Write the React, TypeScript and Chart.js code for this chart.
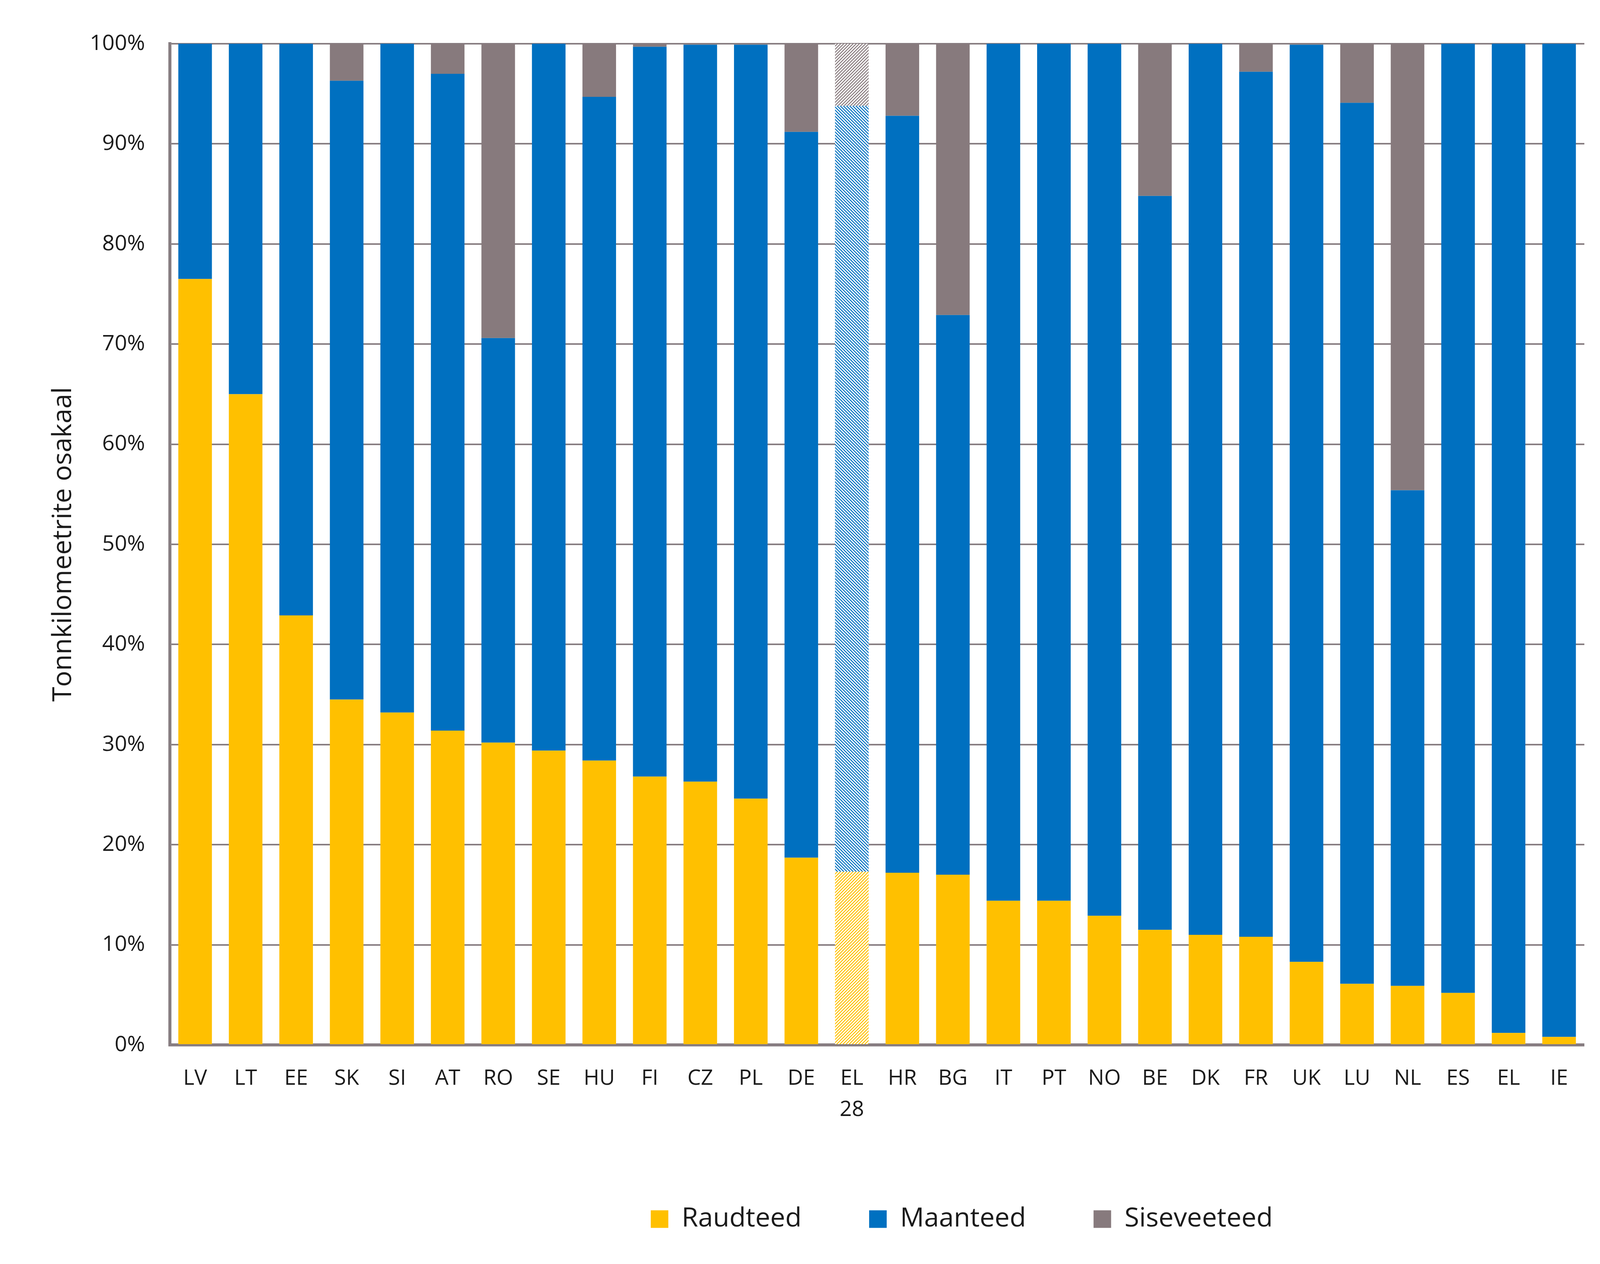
import { useEffect, useRef } from "react";
import { Chart, registerables } from "chart.js";

Chart.register(...registerables);

const categories: (string | string[])[] = [
  "LV", "LT", "EE", "SK", "SI", "AT", "RO", "SE", "HU", "FI", "CZ", "PL", "DE",
  ["EL", "28"], "HR", "BG", "IT", "PT", "NO", "BE", "DK", "FR", "UK", "LU", "NL",
  "ES", "EL", "IE",
];

// shares in % of tonne-kilometres
const raudteed = [
  76.5, 65.0, 42.9, 34.5, 33.2, 31.4, 30.2, 29.4, 28.4, 26.8, 26.3, 24.6, 18.7,
  17.3, 17.2, 17.0, 14.4, 14.4, 12.9, 11.5, 11.0, 10.8, 8.3, 6.1, 5.9, 5.2, 1.2, 0.8,
];
const maanteed = [
  23.5, 35.0, 57.1, 61.8, 66.8, 65.6, 40.4, 70.6, 66.3, 72.9, 73.6, 75.3, 72.5,
  76.5, 75.6, 55.9, 85.6, 85.6, 87.1, 73.3, 89.0, 86.4, 91.6, 88.0, 49.5, 94.8, 98.8, 99.2,
];
const siseveeteed = [
  0, 0, 0, 3.7, 0, 3.0, 29.4, 0, 5.3, 0.3, 0.1, 0.1, 8.8,
  6.2, 7.2, 27.1, 0, 0, 0, 15.2, 0, 2.8, 0.1, 5.9, 44.6, 0, 0, 0,
];

const seriesNames = ["Raudteed", "Maanteed", "Siseveeteed"];
const seriesColors = ["#FFC000", "#0070C0", "#877A7D"];
const yTickLabels = ["0%", "10%", "20%", "30%", "40%", "50%", "60%", "70%", "80%", "90%", "100%"];
const axisTitle = "Tonnkilomeetrite osakaal";

const FONT = "'Open Sans', 'Noto Sans', sans-serif";
const TEXT = "#1b1b1b";
const GRID = "#877d81";

// reference frame the layout was measured in
const REF_W = 4192;
const REF_H = 3237;
const MARGIN = 8;

function makeHatch(color: string, rising: boolean) {
  const size = 8;
  const c = document.createElement("canvas");
  c.width = size;
  c.height = size;
  const g = c.getContext("2d")!;
  g.fillStyle = "#ffffff";
  g.fillRect(0, 0, size, size);
  g.strokeStyle = color;
  g.lineWidth = 2.4;
  g.beginPath();
  if (rising) {
    g.moveTo(0, size); g.lineTo(size, 0);
    g.moveTo(-2, 2); g.lineTo(2, -2);
    g.moveTo(size - 2, size + 2); g.lineTo(size + 2, size - 2);
  } else {
    g.moveTo(0, 0); g.lineTo(size, size);
    g.moveTo(size - 2, -2); g.lineTo(size + 2, 2);
    g.moveTo(-2, size - 2); g.lineTo(2, size + 2);
  }
  g.stroke();
  return g.createPattern(c, "repeat")!;
}

export default function App() {
  const chartRef = useRef<HTMLCanvasElement | null>(null);
  const chartInstance = useRef<Chart | null>(null);

  // the window may be narrower than the reference, so lay out proportionally
  const kx = window.innerWidth / REF_W;
  const ky = window.innerHeight / REF_H;
  const k = Math.min(kx, ky);
  const W = Math.floor(window.innerWidth - 2 * MARGIN);
  const H = Math.floor(window.innerHeight - 2 * MARGIN);

  useEffect(() => {
    if (!chartRef.current) return;
    const ctx = chartRef.current.getContext("2d");
    if (!ctx) return;
    if (chartInstance.current) chartInstance.current.destroy();

    const X = (v: number) => v * kx - MARGIN;
    const Y = (v: number) => v * ky - MARGIN;

    const plotLeft = X(445);
    const plotRight = X(4151);
    const plotTop = Y(112);
    const plotBottom = Y(2676);
    const legendCenter = Y(3122);
    const legendFont = 70 * k;
    const legendPad = 177 * k;
    const xFont = 56 * k;
    const xLine = 80 * ky;
    const titleFont = 70 * k;

    const legendShift = {
      id: "legendShift",
      afterLayout(chart: any) {
        const lg = chart.legend;
        if (!lg || !lg.lineWidths) return;
        const pad = lg.options.labels.padding;
        const start = (lg.left + pad + lg.right - lg.lineWidths[0]) / 2;
        const d = X(1705) - start;
        lg.left += d;
        lg.right += d;
      },
    };

    const hatchedIndex = categories.findIndex(c => Array.isArray(c));
    const hatches = [
      makeHatch(seriesColors[0], true),
      makeHatch(seriesColors[1], false),
      makeHatch(seriesColors[2], true),
    ];
    const values = [raudteed, maanteed, siseveeteed];

    chartInstance.current = new Chart(ctx, {
      type: "bar",
      data: {
        labels: categories,
        datasets: values.map((data, s) => ({
          label: seriesNames[s],
          data: data,
          backgroundColor: (c: any) =>
            c.dataIndex === hatchedIndex ? hatches[s] : seriesColors[s],
          borderWidth: 0,
          categoryPercentage: 1,
          barPercentage: 0.665,
        })),
      },
      options: {
        animation: false,
        responsive: false,
        layout: {
          padding: {
            top: plotTop,
            right: W - plotRight,
            bottom: H - (legendCenter + legendFont / 2 + 10),
            left: 0,
          },
        },
        plugins: {
          tooltip: { enabled: false },
          legend: {
            position: "bottom",
            labels: {
              boxWidth: 46 * k,
              boxHeight: 46 * k,
              padding: legendPad,
              color: TEXT,
              font: { family: FONT, size: legendFont },
            },
          },
        },
        scales: {
          x: {
            stacked: true,
            grid: { display: false, drawTicks: false },
            border: { display: true, color: GRID, width: 8 * k },
            ticks: {
              autoSkip: false,
              maxRotation: 0,
              padding: Y(2762) - plotBottom - xLine / 2,
              color: TEXT,
              font: { family: FONT, size: xFont, lineHeight: xLine / xFont },
            },
            afterFit: (scale: any) => {
              scale.height = legendCenter - legendPad - legendFont / 2 - plotBottom;
            },
          },
          y: {
            stacked: true,
            min: 0,
            max: 100,
            grid: { color: GRID, lineWidth: 4 * k, drawTicks: false },
            border: { display: true, color: GRID, width: 8 * k },
            ticks: {
              stepSize: 10,
              padding: 65 * kx,
              color: TEXT,
              font: { family: FONT, size: 57 * k },
              callback: (_v: any, i: number) => yTickLabels[i],
            },
            title: {
              display: true,
              text: axisTitle,
              color: TEXT,
              padding: { top: X(166) - titleFont * 0.6, bottom: 0 },
              font: { family: FONT, size: titleFont },
            },
            afterFit: (scale: any) => { scale.width = plotLeft; },
          },
        },
      },
      plugins: [legendShift],
    } as any);

    return () => {
      if (chartInstance.current) {
        chartInstance.current.destroy();
        chartInstance.current = null;
      }
    };
  }, []);

  return (
    <div style={{ width: W, height: H, overflow: "hidden" }}>
      <canvas ref={chartRef} width={W} height={H} style={{ display: "block" }}></canvas>
    </div>
  );
}
